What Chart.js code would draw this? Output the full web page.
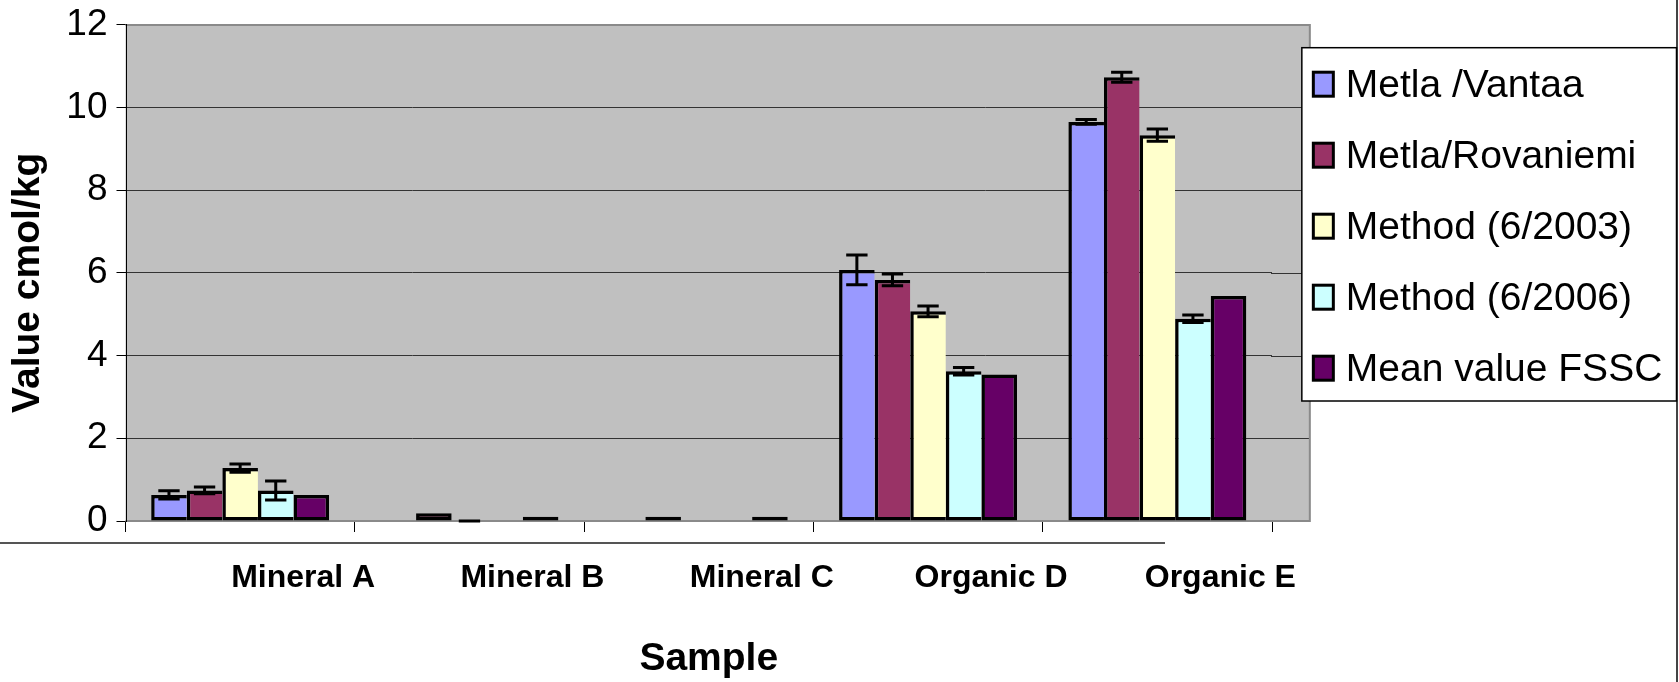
<!DOCTYPE html>
<html>
<head>
<meta charset="utf-8">
<script src="https://cdn.jsdelivr.net/npm/chart.js@4.4.0/dist/chart.umd.min.js"></script>
<style>
html,body{margin:0;padding:0;background:#fff;overflow:hidden}
#wrap{width:1679px;height:682px;position:relative}
canvas{display:block}
</style>
</head>
<body>
<div id="wrap"><canvas id="c" width="1679" height="682"></canvas></div>
<script>
// ---- data ----
const categories = ['Mineral A', 'Mineral B', 'Mineral C', 'Organic D', 'Organic E'];
const seriesNames = ['Metla /Vantaa', 'Metla/Rovaniemi', 'Method (6/2003)', 'Method (6/2006)', 'Mean value FSSC'];
const metlaVantaa        = [0.63, null, null, 6.07, 9.65];
const metlaVantaaErr     = [0.10, null, null, 0.36, 0.06];
const metlaRovaniemi     = [0.74, 0.19, 0.10, 5.83, 10.73];
const metlaRovaniemiErr  = [0.08, null, null, 0.14, 0.12];
const method2003         = [1.28, 0.00, null, 5.07, 9.33];
const method2003Err      = [0.10, 0.00, null, 0.13, 0.15];
const method2006         = [0.74, null, null, 3.62, 4.89];
const method2006Err      = [0.23, null, null, 0.09, 0.09];
const meanFSSC           = [0.63, 0.10, 0.10, 3.54, 5.44];
const yTicks = [0, 2, 4, 6, 8, 10, 12];
const xAxisTitle = 'Sample';
const yAxisTitle = 'Value cmol/kg';
const seriesColors = ['#9999FF', '#993366', '#FFFFCC', '#CCFFFF', '#660066'];

const FONT = "'Liberation Sans', Arial, Helvetica, sans-serif";
Chart.defaults.color = '#000';
Chart.defaults.font.family = FONT;

const seriesValues = [metlaVantaa, metlaRovaniemi, method2003, method2006, meanFSSC];
const seriesErrors = [metlaVantaaErr, metlaRovaniemiErr, method2003Err, method2006Err, null];

const BW = 3.5;
const datasets = seriesNames.map((name, k) => ({
  label: name,
  data: seriesValues[k],
  errors: seriesErrors[k],
  backgroundColor: seriesColors[k],
  borderColor: '#000',
  borderSkipped: false,
  borderWidth: (ctx) => {
    const ds = ctx.chart.data.datasets;
    const next = ds[ctx.datasetIndex + 1];
    const hasNext = next && next.data[ctx.dataIndex] != null && next.data[ctx.dataIndex] !== 0;
    return {top: BW, bottom: BW, left: BW, right: hasNext ? 0 : BW};
  },
  categoryPercentage: 0.776,
  barPercentage: 1.0
}));

function plotRight(chart) {
  const a = chart.chartArea, x = chart.scales.x;
  return a.right + (x.width / categories.length) * 0.165;
}

const plotFrame = {
  id: 'plotFrame',
  beforeDraw(chart) {
    const {ctx, chartArea: a} = chart;
    const ext = plotRight(chart);
    ctx.save();
    ctx.fillStyle = '#C0C0C0';
    ctx.fillRect(a.left, a.top, ext - a.left, a.bottom - a.top);
    ctx.restore();
  },
  beforeDatasetsDraw(chart) {
    const {ctx, chartArea: a, scales: {y}} = chart;
    const ext = plotRight(chart);
    ctx.save();
    // gridline extensions beyond the category axis
    y.ticks.forEach(t => {
      if (t.value === 0 || t.value === 12) return;
      const py = Math.round(y.getPixelForValue(t.value)) + 0.5;
      ctx.strokeStyle = '#333';
      ctx.lineWidth = 1;
      ctx.beginPath(); ctx.moveTo(a.right - 1, py); ctx.lineTo(ext, py); ctx.stroke();
    });
    // plot area border (top, right, bottom)
    ctx.strokeStyle = '#8a8a8a';
    ctx.lineWidth = 2;
    const top = Math.round(y.getPixelForValue(12));
    const bot = Math.round(y.getPixelForValue(0));
    ctx.beginPath();
    ctx.moveTo(a.left, top); ctx.lineTo(ext, top); ctx.lineTo(ext, bot); ctx.lineTo(a.left, bot);
    ctx.stroke();
    // left axis line
    ctx.strokeStyle = '#000';
    ctx.lineWidth = 1;
    ctx.beginPath(); ctx.moveTo(Math.round(a.left) + 0.5, top - 1); ctx.lineTo(Math.round(a.left) + 0.5, bot + 1); ctx.stroke();
    ctx.restore();
  },
  afterDraw(chart) {
    const {ctx, chartArea: a} = chart;
    const ext = plotRight(chart);
    ctx.save();
    // outer chart frame fragments
    ctx.strokeStyle = '#555';
    ctx.lineWidth = 2;
    ctx.beginPath(); ctx.moveTo(0, 543); ctx.lineTo(1165, 543); ctx.stroke();
    ctx.strokeStyle = '#444';
    ctx.beginPath(); ctx.moveTo(chart.width - 2, 0); ctx.lineTo(chart.width - 2, chart.height); ctx.stroke();

    // axis titles
    ctx.fillStyle = '#000';
    ctx.font = 'bold 39px ' + FONT;
    ctx.textAlign = 'center';
    ctx.textBaseline = 'middle';
    ctx.fillText(xAxisTitle, (a.left + a.right) / 2 + 10, chart.height - 23);
    ctx.save();
    ctx.translate(28, (a.top + a.bottom) / 2 + 10);
    ctx.rotate(-Math.PI / 2);
    ctx.fillText(yAxisTitle, 0, 0);
    ctx.restore();

    // legend
    const bl = ext - 8, bt = a.top + 23, br = chart.width - 2.5, bb = bt + 353.3;
    ctx.fillStyle = '#fff';
    ctx.fillRect(bl, bt, br - bl, bb - bt);
    ctx.strokeStyle = '#000';
    ctx.lineWidth = 1.5;
    ctx.strokeRect(bl, bt, br - bl, bb - bt);
    ctx.font = '39px ' + FONT;
    ctx.textBaseline = 'alphabetic';
    ctx.textAlign = 'left';
    chart.data.datasets.forEach((ds, i) => {
      const cy = bt + 36.5 + 71 * i;
      ctx.fillStyle = ds.backgroundColor;
      ctx.fillRect(bl + 11.5, cy - 12, 20, 24);
      ctx.strokeStyle = '#000';
      ctx.lineWidth = 3;
      ctx.strokeRect(bl + 11.5, cy - 12, 20, 24);
      ctx.fillStyle = '#000';
      ctx.fillText(ds.label, bl + 44, cy + 13);
    });
    ctx.restore();
  }
};

const errorBars = {
  id: 'errorBars',
  afterDatasetsDraw(chart) {
    const ctx = chart.ctx, y = chart.scales.y;
    chart.data.datasets.forEach((ds, di) => {
      if (!ds.errors) return;
      const meta = chart.getDatasetMeta(di);
      meta.data.forEach((bar, i) => {
        const v = ds.data[i], e = ds.errors[i];
        if (v == null || e == null) return;
        const yt = y.getPixelForValue(v + e);
        const yb = y.getPixelForValue(Math.max(v - e, 0));
        const half = bar.width * 0.3;
        ctx.save();
        ctx.strokeStyle = '#000';
        ctx.lineWidth = 3;
        ctx.beginPath();
        ctx.moveTo(bar.x, yt); ctx.lineTo(bar.x, yb);
        ctx.moveTo(bar.x - half, yt); ctx.lineTo(bar.x + half, yt);
        ctx.moveTo(bar.x - half, yb); ctx.lineTo(bar.x + half, yb);
        ctx.stroke();
        ctx.restore();
      });
    });
  }
};

new Chart(document.getElementById('c'), {
  type: 'bar',
  data: {labels: categories, datasets},
  options: {
    responsive: false,
    animation: false,
    devicePixelRatio: 1,
    layout: {padding: {left: 0, top: 24.7, right: 407, bottom: 0}},
    plugins: {legend: {display: false}, tooltip: {enabled: false}},
    scales: {
      x: {
        offset: true,
        grid: {
          display: true, offset: true, drawOnChartArea: false, drawTicks: true,
          tickLength: 11, tickColor: '#000', tickWidth: 1
        },
        border: {display: false},
        ticks: {
          font: {size: 32, weight: 'bold', family: FONT},
          color: '#000', padding: 27, labelOffset: 63,
          maxRotation: 0, minRotation: 0, autoSkip: false
        },
        title: {display: false, text: xAxisTitle},
        afterFit(scale) {
          scale.height = 682 - 521;
          scale.paddingLeft = 0; scale.paddingRight = 0;
        }
      },
      y: {
        min: 0, max: 12,
        afterBuildTicks(scale) { scale.ticks = yTicks.map(v => ({value: v})); },
        grid: {
          color: (c) => (c.tick && (c.tick.value === 0 || c.tick.value === 12)) ? 'rgba(0,0,0,0)' : '#333',
          lineWidth: 1, drawTicks: true, tickLength: 9, tickColor: '#000', tickWidth: 1
        },
        border: {display: false},
        ticks: {
          font: {size: 37, family: FONT}, color: '#000', padding: 9
        },
        title: {display: false, text: yAxisTitle},
        afterFit(scale) {
          scale.width = 125.5;
          scale.paddingTop = 0; scale.paddingBottom = 0;
        }
      }
    }
  },
  plugins: [plotFrame, errorBars]
});
</script>
</body>
</html>
